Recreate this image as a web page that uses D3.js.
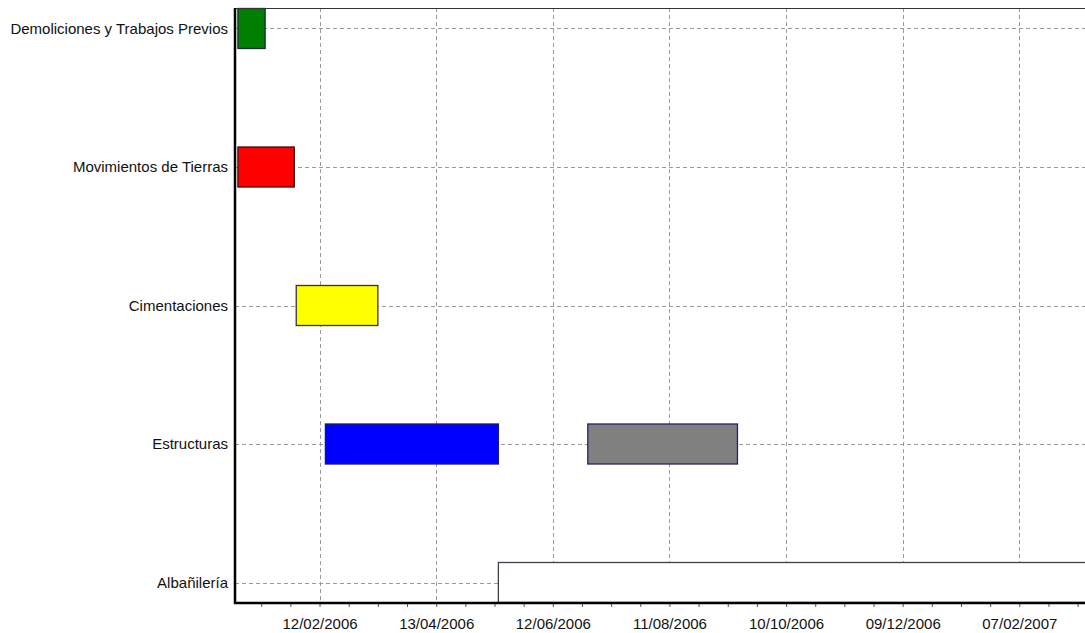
<!DOCTYPE html>
<html>
<head>
<meta charset="utf-8">
<script src="https://cdn.jsdelivr.net/npm/d3@7"></script>
<style>
body { margin: 0; background: #fff; }
svg { display: block; overflow: hidden; }
.gantt-container text { font-family: "Liberation Sans", Arial, sans-serif; font-size: 15px; fill: #111; }
.grid line { stroke: #9a9a9a; stroke-width: 1; stroke-dasharray: 4,3; }
</style>
</head>
<body>
<div class="gantt-container"></div>
<script>
// tareas de la obra
var categories = ["Demoliciones y Trabajos Previos", "Movimientos de Tierras", "Cimentaciones", "Estructuras", "Albañilería"];
var taskCategory = ["Demoliciones y Trabajos Previos", "Movimientos de Tierras", "Cimentaciones", "Estructuras", "Estructuras", "Albañilería"];
var taskStart = ["2006-01-01", "2006-01-01", "2006-01-31", "2006-02-15", "2006-06-30", "2006-05-15"];
var taskEnd = ["2006-01-15", "2006-01-30", "2006-03-14", "2006-05-15", "2006-09-15", "2007-04-30"];
var tickLabels = ["12/02/2006", "13/04/2006", "12/06/2006", "11/08/2006", "10/10/2006", "09/12/2006", "07/02/2007"];
var axisDomain = ["2005-12-30T12:00", "2007-03-20T00:00"];
var taskColors = ["#008000", "#ff0000", "#ffff00", "#0000ff", "#808080", "#ffffff"];
var taskStrokes = ["#1c2a3a", "#3a1010", "#333333", "#1a1a70", "#22226a", "#404048"];

var marginGantt = {top: 8, right: 0, bottom: 30, left: 235},
    widthGantt = 864,
    heightGantt = 633 - marginGantt.top - marginGantt.bottom;

var svgGantt = d3.select(".gantt-container").append("svg")
    .attr("width", 1085)
    .attr("height", 633);

var parseDay = d3.utcParse("%Y-%m-%d"),
    parseStamp = d3.utcParse("%Y-%m-%dT%H:%M"),
    parseLabel = d3.utcParse("%d/%m/%Y"),
    fmtLabel = d3.utcFormat("%d/%m/%Y");

var tasks = taskCategory.map(function(c, i) {
    return {cat: c, start: parseDay(taskStart[i]), end: parseDay(taskEnd[i]), fill: taskColors[i], stroke: taskStrokes[i]};
});

var xGantt = d3.scaleUtc()
    .domain(axisDomain.map(parseStamp))
    .range([marginGantt.left, marginGantt.left + widthGantt]);

var yGantt = d3.scalePoint()
    .domain(categories)
    .range([marginGantt.top, marginGantt.top + heightGantt])
    .padding(0.148);

var majorTicks = tickLabels.map(parseLabel);
// marcas menores cada 15 dias
var minorTicks = d3.range(-3, 30).map(function(i) { return d3.utcDay.offset(majorTicks[0], 15 * i); })
    .filter(function(d) { return d >= xGantt.domain()[0] && d <= xGantt.domain()[1]; });

var gGrid = svgGantt.append("g").attr("class", "grid");

gGrid.selectAll(".vgrid")
    .data(majorTicks)
    .enter().append("line")
    .attr("class", "vgrid")
    .attr("x1", function(d) { return Math.round(xGantt(d)) + 0.5; })
    .attr("x2", function(d) { return Math.round(xGantt(d)) + 0.5; })
    .attr("y1", marginGantt.top)
    .attr("y2", marginGantt.top + heightGantt);

gGrid.selectAll(".hgrid")
    .data(categories)
    .enter().append("line")
    .attr("class", "hgrid")
    .attr("x1", marginGantt.left)
    .attr("x2", 1085)
    .attr("y1", function(d) { return Math.round(yGantt(d)) + 0.5; })
    .attr("y2", function(d) { return Math.round(yGantt(d)) + 0.5; });

var barH = 40;

svgGantt.append("g")
    .attr("class", "bars")
    .selectAll("rect")
    .data(tasks)
    .enter().append("rect")
    .attr("x", function(d) { return xGantt(d.start); })
    .attr("y", function(d) { return yGantt(d.cat) - barH / 2; })
    .attr("width", function(d) { return xGantt(d.end) - xGantt(d.start); })
    .attr("height", barH)
    .attr("fill", function(d) { return d.fill; })
    .attr("stroke", function(d) { return d.stroke; })
    .attr("stroke-width", 1.3);

// eje inferior
var axisX = svgGantt.append("g")
    .attr("transform", "translate(0," + (marginGantt.top + heightGantt) + ")")
    .call(d3.axisBottom(xGantt)
        .tickValues(minorTicks)
        .tickSize(4)
        .tickPadding(11)
        .tickFormat(function(d) {
            var s = fmtLabel(d);
            return tickLabels.indexOf(s) >= 0 ? s : "";
        }));
axisX.select(".domain").remove();
axisX.selectAll(".tick line").attr("stroke", "#555");
axisX.selectAll(".tick text").attr("font-size", null).attr("font-family", null);

// etiquetas de categorias
var axisY = svgGantt.append("g")
    .attr("transform", "translate(" + marginGantt.left + ",0)")
    .call(d3.axisLeft(yGantt).tickSize(0).tickPadding(7));
axisY.select(".domain").remove();
axisY.selectAll(".tick text").attr("font-size", null).attr("font-family", null);

// marco
svgGantt.append("line")
    .attr("x1", marginGantt.left).attr("x2", 1085)
    .attr("y1", marginGantt.top + 0.5).attr("y2", marginGantt.top + 0.5)
    .attr("stroke", "#333").attr("stroke-width", 1);

svgGantt.append("line")
    .attr("x1", marginGantt.left).attr("x2", marginGantt.left)
    .attr("y1", marginGantt.top).attr("y2", marginGantt.top + heightGantt + 1)
    .attr("stroke", "#000").attr("stroke-width", 2.5);

svgGantt.append("line")
    .attr("x1", marginGantt.left - 1).attr("x2", 1085)
    .attr("y1", marginGantt.top + heightGantt).attr("y2", marginGantt.top + heightGantt)
    .attr("stroke", "#000").attr("stroke-width", 2.5);
</script>
</body>
</html>
